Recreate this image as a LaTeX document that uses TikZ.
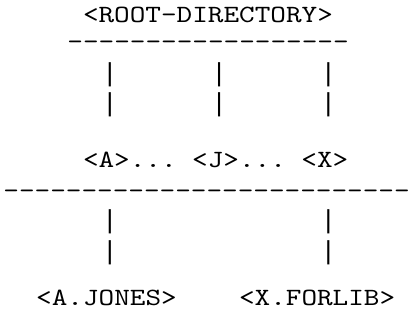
\documentclass[tikz,border=0pt]{standalone}
\usepackage{fontspec}
\newfontfamily\asciifont{lmmono10-regular}[Extension=.otf, FakeStretch=1.2, Ligatures=TeXOff]
\newfontfamily\barfont{Liberation Mono}[Ligatures=TeXOff]
\tikzset{
  txt/.style={font=\asciifont\fontsize{24.8}{24.8}\selectfont, inner sep=0pt, outer sep=0pt, anchor=base west},
  pipe/.style={font=\barfont\fontsize{26}{26}\selectfont, inner sep=0pt, outer sep=0pt, anchor=base},
}
\newcommand\colx[1]{5+#1*15.6}
\newcommand\pipex[1]{8.6+(#1+0.5)*15.6}
\begin{document}
\begin{tikzpicture}[x=1pt,y=-1pt]
\useasboundingbox (0,0) rectangle (409,320);
% top level
\node[txt] (root) at ({\colx{5}},23) {<ROOT-DIRECTORY>};
\node[txt] (bar1) at ({\colx{4}},49.5) {------------------};
\node[pipe] (p1a) at ({\pipex{6}},82) {|};
\node[pipe] (p1b) at ({\pipex{13}},82) {|};
\node[pipe] (p1c) at ({\pipex{20}},82) {|};
\node[pipe] (p2a) at ({\pipex{6}},112) {|};
\node[pipe] (p2b) at ({\pipex{13}},112) {|};
\node[pipe] (p2c) at ({\pipex{20}},112) {|};
% second level
\node[txt] (a) at ({\colx{5}},168) {<A>...};
\node[txt] (j) at ({\colx{12}},168) {<J>...};
\node[txt] (x) at ({\colx{19}},168) {<X>};
\node[txt] (bar2) at (3.4,198.5) {--------------------------};
\node[pipe] (p3a) at ({\pipex{6}},229) {|};
\node[pipe] (p3c) at ({\pipex{20}},229) {|};
\node[pipe] (p4a) at ({\pipex{6}},259) {|};
\node[pipe] (p4c) at ({\pipex{20}},259) {|};
% third level
\node[txt] (jones) at ({\colx{2}},305) {<A.JONES>};
\node[txt] (forlib) at ({\colx{15}},305) {<X.FORLIB>};
\end{tikzpicture}
\end{document}
